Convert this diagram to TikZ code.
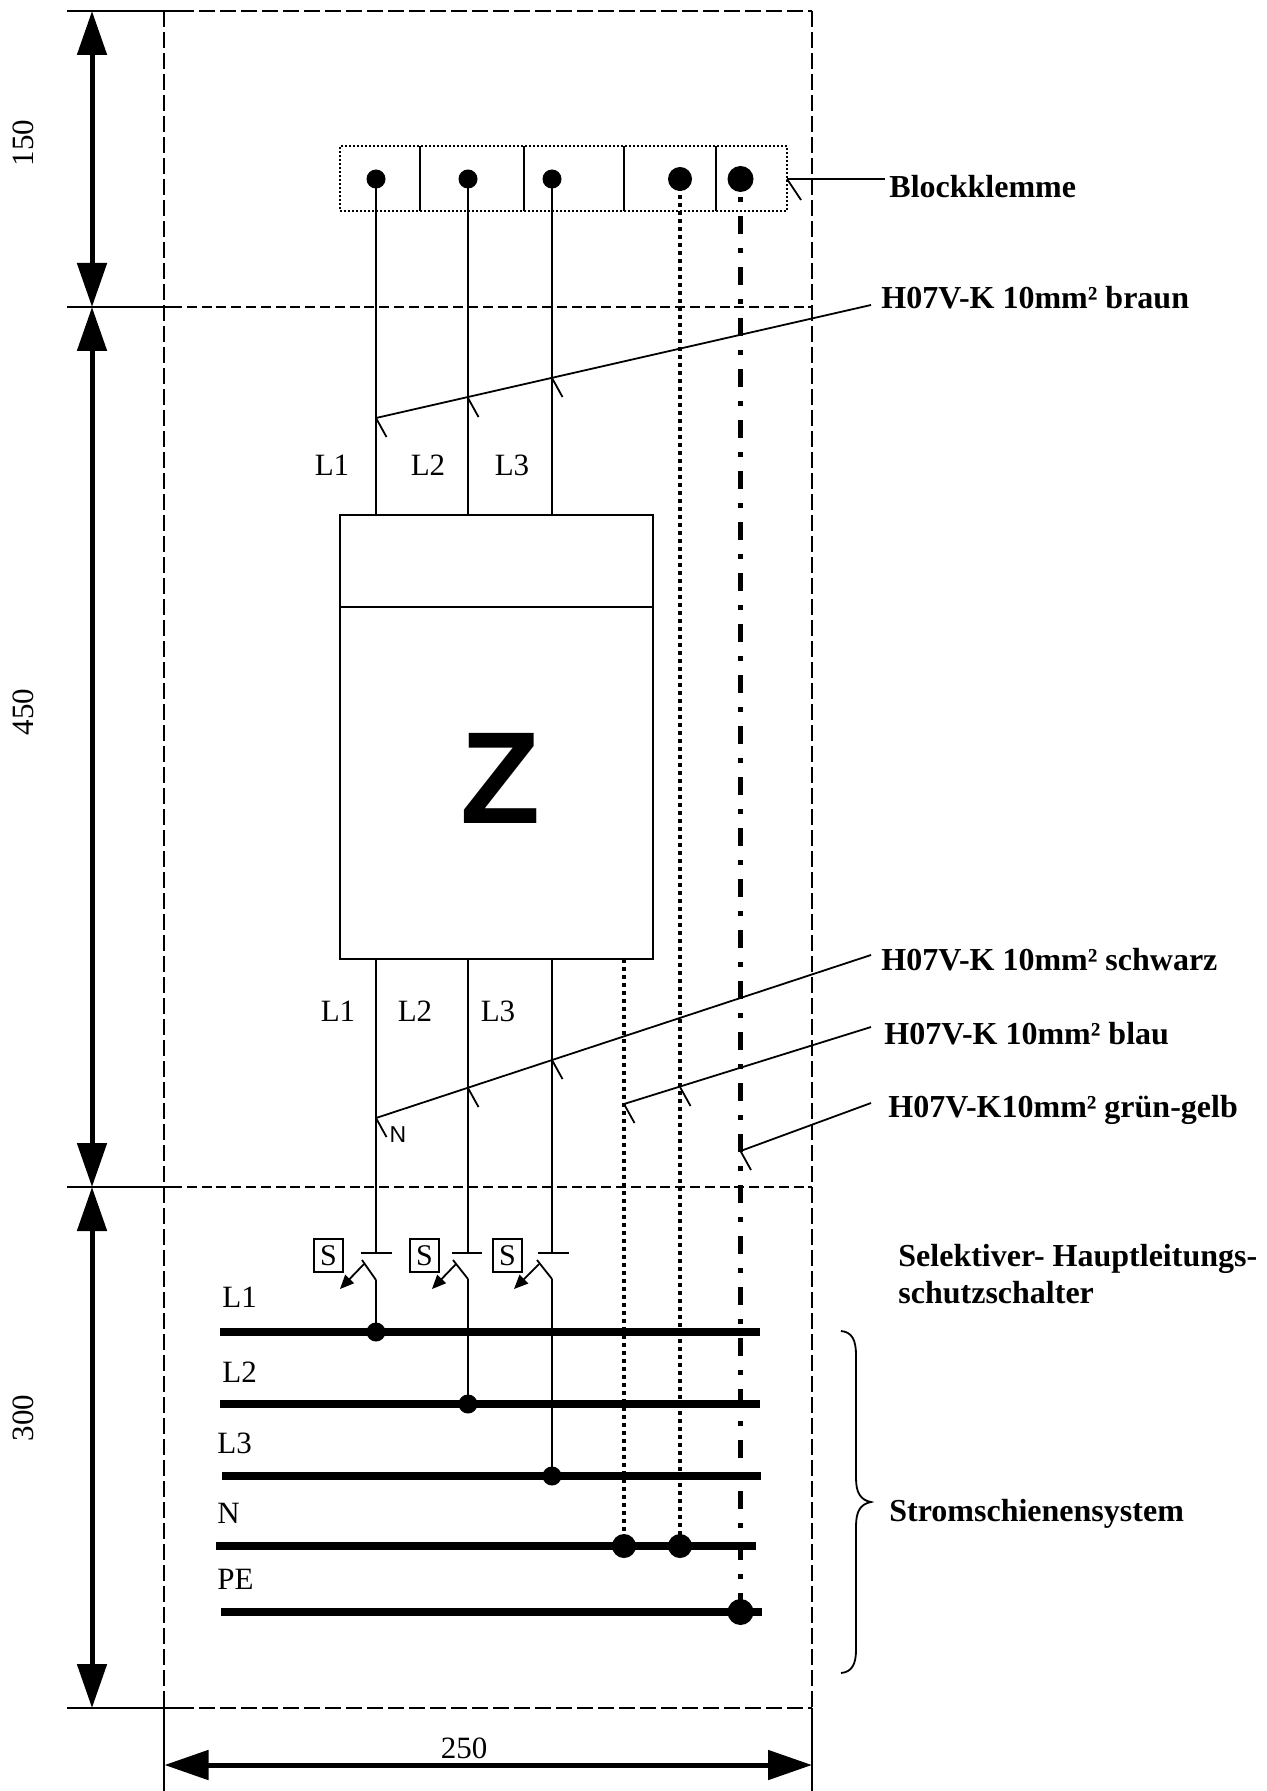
\documentclass[tikz,border=0pt]{standalone}
\usepackage{fontspec}
\setmainfont{Liberation Serif}
\newfontfamily\zfont{Liberation Sans}
\usetikzlibrary{arrows.meta}
\tikzset{
  x=.5pt,y=-.5pt,
  line/.style={line width=.9pt,black},
  frameline/.style={line width=.95pt,dash pattern=on 7.8pt off 2.7pt},
  midline/.style={line width=.95pt,dash pattern=on 5pt off 2.4pt},
  dimline/.style={line width=2.5pt,{Triangle[length=22pt,width=14.5pt]}-{Triangle[length=22pt,width=14.5pt]},shorten <=0pt,shorten >=0pt},
  dotwire/.style={line width=2.2pt,dash pattern=on 2.1pt off 1.9pt},
  dashdotwire/.style={line width=2.4pt,dash pattern=on 9pt off 7pt on 2.5pt off 7pt,dash phase=16pt},
  busbar/.style={line width=4pt},
  dotS/.style={circle,fill=black,inner sep=0pt,minimum size=9.5pt},
  dotM/.style={circle,fill=black,inner sep=0pt,minimum size=12pt},
  dotL/.style={circle,fill=black,inner sep=0pt,minimum size=13pt},
  lab/.style={font=\fontsize{15.5}{17}\selectfont,inner sep=0pt},
  boldlab/.style={font=\fontsize{16}{18.2}\bfseries\selectfont,inner sep=0pt,anchor=west,align=left},
  sbox/.style={draw,line width=.85pt,minimum width=14.5pt,minimum height=16.5pt,inner sep=0pt,font=\fontsize{15}{16}\selectfont},
  switcharrow/.style={line width=.9pt,-{Triangle[length=7pt,width=6pt]}},
}
\begin{document}
\begin{tikzpicture}
\useasboundingbox (0,0) rectangle (1266,1791);
% frame
\coordinate (fl) at (164,11);
\coordinate (fr) at (812,11);
\coordinate (bl) at (164,1708);
\coordinate (br) at (812,1708);
\draw[frameline] (fl) -- (bl);
\draw[frameline] (fr) -- (br);
\draw[frameline] (178,11) -- (fr);
\draw[midline] (172,307) -- (812,307);
\draw[midline] (172,1187) -- (812,1187);
\draw[frameline] (178,1708) -- (br);
\draw[line] (67,11) -- (178,11);
\draw[line] (67,307) -- (172,307);
\draw[line] (67,1187) -- (172,1187);
\draw[line] (67,1708) -- (178,1708);
\draw[line] (bl) -- (164,1791);
\draw[line] (br) -- (812,1791);
% dimensions
\coordinate (v0) at (92,11);
\coordinate (v1) at (92,307);
\coordinate (v2) at (92,1187);
\coordinate (v3) at (92,1708);
\coordinate (h0) at (164.5,1765);
\coordinate (h1) at (812,1765);
\draw[dimline] (v0) -- (v1);
\draw[dimline] (v1) -- (v2);
\draw[dimline] (v2) -- (v3);
\draw[dimline] (h0) -- (h1);
\node[lab,rotate=90] (d150) at (23,143) {150};
\node[lab,rotate=90] (d450) at (23,712) {450};
\node[lab,rotate=90] (d300) at (23,1418) {300};
\node[lab] (d250) at (464,1748) {250};
% terminal block
\node[draw,densely dotted,line width=1pt,minimum width=223.5pt,minimum height=32.5pt,inner sep=0pt] (block) at (563.5,178.5) {};
\foreach \x in {420,524,624,716}
  \draw[line] (\x,146) -- (\x,211);
\node[dotS] (k1) at (376,179) {};
\node[dotS] (k2) at (468,179) {};
\node[dotS] (k3) at (552,179) {};
\node[dotM] (k4) at (680,179) {};
\node[dotL] (k5) at (740.5,179) {};
% meter
\node[draw,line width=.95pt,minimum width=156.5pt,minimum height=222pt,inner sep=0pt] (meter) at (496.5,737) {};
\draw[line width=.95pt] (339,607) -- (653.5,607);
\node[font=\fontsize{65.5}{70}\zfont\bfseries\selectfont,inner sep=0pt] (zz) at (501,778) {Z};
% bus bars
\coordinate (b1a) at (220,1332); \coordinate (b1b) at (760,1332);
\coordinate (b2a) at (220,1404); \coordinate (b2b) at (760,1404);
\coordinate (b3a) at (222,1476); \coordinate (b3b) at (761,1476);
\coordinate (b4a) at (216,1546); \coordinate (b4b) at (756,1546);
\coordinate (b5a) at (221,1612); \coordinate (b5b) at (762,1612);
\draw[busbar] (b1a) -- (b1b);
\draw[busbar] (b2a) -- (b2b);
\draw[busbar] (b3a) -- (b3b);
\draw[busbar] (b4a) -- (b4b);
\draw[busbar] (b5a) -- (b5b);
\node[dotS] (j1) at (376,1332) {};
\node[dotS] (j2) at (468,1404) {};
\node[dotS] (j3) at (552,1476) {};
\node[dotM] (j4) at (624,1546) {};
\node[dotM] (j5) at (680,1546) {};
\node[dotL] (j6) at (740.5,1612) {};
% wires top
\draw[line] (k1.center) -- (376,515);
\draw[line] (k2.center) -- (468,515);
\draw[line] (k3.center) -- (552,515);
\draw[dotwire] (k4.center) -- (j5.center);
\coordinate (pestart) at (740.5,197);
\draw[dashdotwire] (pestart) -- (j6.center);
\draw[dotwire] (624,959) -- (j4.center);
% switches
\coordinate (s1t) at (376,1253); \coordinate (s2t) at (468,1253); \coordinate (s3t) at (552,1253);
\coordinate (s1b) at (376,1280); \coordinate (s2b) at (468,1279); \coordinate (s3b) at (552,1279);
\draw[line] (376,959) -- (s1t);
\draw[line] (468,959) -- (s2t);
\draw[line] (552,959) -- (s3t);
\draw[line] (s1b) -- (j1.center);
\draw[line] (s2b) -- (j2.center);
\draw[line] (s3b) -- (j3.center);
\draw[line] (361,1253) -- (391.5,1253);
\draw[line] (452,1253) -- (482,1253);
\draw[line] (538,1253) -- (568.5,1253);
\draw[line] (s1b) -- (362,1260);
\draw[line] (s2b) -- (453,1260);
\draw[line] (s3b) -- (537,1260);
\draw[switcharrow] (364,1264) -- (340,1289);
\draw[switcharrow] (456,1264) -- (432,1289);
\draw[switcharrow] (539,1264) -- (514,1289);
\node[sbox] (s1) at (328.5,1255.5) {S};
\node[sbox] (s2) at (424.5,1255.5) {S};
\node[sbox] (s3) at (507.5,1255.5) {S};
% leaders
\coordinate (t1) at (376,418); \coordinate (t2) at (468,398); \coordinate (t3) at (552,378);
\coordinate (e1) at (871,305);
\draw[line] (t1) -- (e1);
\coordinate (u1) at (376,1118); \coordinate (u2) at (468,1088); \coordinate (u3) at (552,1060);
\coordinate (e2) at (871,955);
\draw[line] (u1) -- (e2);
\coordinate (w1) at (624,1104); \coordinate (w2) at (680,1087);
\coordinate (e3) at (871,1027);
\draw[line] (w1) -- (e3);
\coordinate (g1) at (740.5,1151);
\coordinate (e4) at (871,1103);
\draw[line] (g1) -- (e4);
\coordinate (q1) at (787,179);
\coordinate (e5) at (885,179);
\draw[line] (q1) -- (e5);
\foreach \c in {t1,t2,t3,u1,u2,u3,w1,w2,g1}
  \draw[line] (\c) -- ++(10.5,19);
\draw[line] (q1) -- ++(14,21);
% brace
\draw[line] (841,1331) .. controls (852,1332) and (856,1340) .. (856,1355)
  -- (856,1478) .. controls (856,1492) and (860,1500) .. (871,1502)
  .. controls (860,1504) and (856,1512) .. (856,1526)
  -- (856,1650) .. controls (856,1664) and (852,1672) .. (841,1673);
% labels
\node[lab] (a1) at (332,465) {L1};
\node[lab] (a2) at (428,465) {L2};
\node[lab] (a3) at (512,465) {L3};
\node[lab] (c1) at (338,1011) {L1};
\node[lab] (c2) at (415,1011) {L2};
\node[lab] (c3) at (498,1011) {L3};
\node[inner sep=0pt,font=\fontsize{11.5}{12}\zfont\selectfont] (nn) at (398,1135) {N};
\node[lab,anchor=west] (bl1) at (222,1297) {L1};
\node[lab,anchor=west] (bl2) at (222,1372) {L2};
\node[lab,anchor=west] (bl3) at (217,1443) {L3};
\node[lab,anchor=west] (bl4) at (217,1513) {N};
\node[lab,anchor=west] (bl5) at (217,1579) {PE};
\node[boldlab] (t-block) at (889,187) {Blockklemme};
\node[boldlab] (t-braun) at (881,298) {H07V-K 10mm² braun};
\node[boldlab] (t-schwarz) at (881,960) {H07V-K 10mm² schwarz};
\node[boldlab] (t-blau) at (884,1034) {H07V-K 10mm² blau};
\node[boldlab] (t-gg) at (888,1110) {H07V-K10mm² grün-gelb};
\node[boldlab] (t-sel) at (898,1274) {Selektiver- Hauptleitungs-\\schutzschalter};
\node[boldlab] (t-strom) at (889,1514) {Stromschienensystem};
\end{tikzpicture}
\end{document}
